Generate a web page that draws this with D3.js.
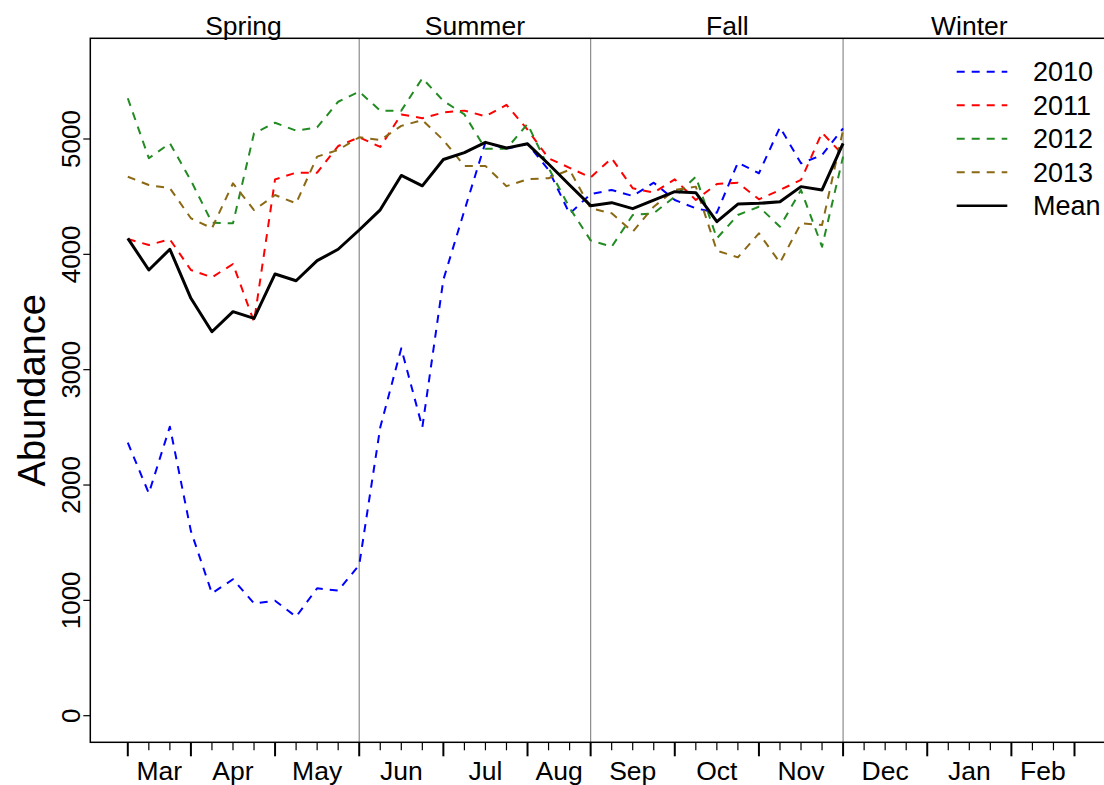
<!DOCTYPE html>
<html>
<head>
<meta charset="utf-8">
<script src="https://cdn.jsdelivr.net/npm/d3@7"></script>
<style>
  html, body { margin: 0; padding: 0; background: #fff; }
  svg { display: block; font-family: "Liberation Sans", Arial, sans-serif; }
</style>
</head>
<body>
<svg id="chart" width="1104" height="785"></svg>
<script>
// ---- data ----
const weeks = d3.range(0, 35);
const y2010 = [2367, 1928, 2506, 1600, 1061, 1183, 974, 997, 858, 1105, 1084, 1307, 2500, 3185, 2500, 3780, 4380, 4971, 4915, 4958, 4733, 4352, 4523, 4558, 4506, 4621, 4471, 4399, 4361, 4795, 4703, 5102, 4789, 4861, 5093];
const y2011 = [4133, 4081, 4130, 3864, 3801, 3916, 3416, 4650, 4708, 4708, 4939, 5015, 4931, 5213, 5180, 5230, 5246, 5197, 5296, 5081, 4833, 4750, 4667, 4833, 4573, 4535, 4650, 4471, 4610, 4621, 4477, 4558, 4645, 5055, 4861];
const y2012 = [5353, 4833, 4963, 4640, 4275, 4269, 5049, 5141, 5072, 5101, 5323, 5410, 5246, 5246, 5527, 5330, 5213, 4915, 4915, 5130, 4750, 4403, 4121, 4066, 4341, 4356, 4500, 4673, 4139, 4341, 4413, 4240, 4558, 4066, 4847];
const y2013 = [4673, 4601, 4573, 4313, 4226, 4616, 4384, 4514, 4442, 4847, 4905, 5015, 4991, 5114, 5163, 4991, 4766, 4766, 4591, 4651, 4660, 4733, 4399, 4356, 4196, 4413, 4558, 4587, 4032, 3974, 4182, 3928, 4269, 4254, 5078];
const yMean = [4139, 3864, 4044, 3619, 3329, 3503, 3445, 3830, 3771, 3945, 4044, 4211, 4386, 4684, 4594, 4822, 4882, 4971, 4922, 4958, 4783, 4601, 4422, 4448, 4396, 4471, 4543, 4535, 4283, 4436, 4442, 4456, 4587, 4558, 4963];

const seriesNames = ["2010", "2011", "2012", "2013", "Mean"];
const seriesColors = ["#0000ff", "#ff0000", "#228b22", "#8b6914", "#000000"];

const monthLabels = ["Mar", "Apr", "May", "Jun", "Jul", "Aug", "Sep", "Oct", "Nov", "Dec", "Jan", "Feb"];
const monthBreaks = [0, 3, 7, 11, 15, 19, 22, 26, 30, 34, 38, 42, 45];
const seasonLabels = ["Spring", "Summer", "Fall", "Winter"];
const seasonLabelPos = [5.5, 16.5, 28.5, 40];
const seasonBreaks = [11, 22, 34];
const yTicks = [0, 1000, 2000, 3000, 4000, 5000];

// ---- layout ----
const svg = d3.select("#chart");
const x = d3.scaleLinear().domain([0, 45]).range([127.8, 1074.5]);
const y = d3.scaleLinear().domain([0, 5000]).range([715.7, 139]);
const plotTop = 38.3, plotBottom = 742.3;
const plotLeft = 90.3, plotRight = x(46.8);

// season separator lines
svg.append("g").selectAll("line").data(seasonBreaks).join("line")
  .attr("x1", d => x(d)).attr("x2", d => x(d))
  .attr("y1", plotTop).attr("y2", plotBottom)
  .attr("stroke", "#8c8c8c").attr("stroke-width", 1.2);

// series
const allSeries = [y2010, y2011, y2012, y2013, yMean];
const line = d3.line().x((d, i) => x(weeks[i])).y(d => y(d));
allSeries.forEach((s, k) => {
  svg.append("path").datum(s)
    .attr("d", line)
    .attr("fill", "none")
    .attr("stroke", seriesColors[k])
    .attr("stroke-width", k === 4 ? 3 : 2)
    .attr("stroke-linejoin", "round")
    .attr("stroke-dasharray", k === 4 ? null : "8,7");
});

// box
svg.append("rect")
  .attr("x", plotLeft).attr("y", plotTop)
  .attr("width", plotRight - plotLeft).attr("height", plotBottom - plotTop)
  .attr("fill", "none").attr("stroke", "#000").attr("stroke-width", 1.5);

// y axis
const yAxis = svg.append("g");
yAxis.selectAll("line").data(yTicks).join("line")
  .attr("x1", plotLeft - 7).attr("x2", plotLeft)
  .attr("y1", d => y(d)).attr("y2", d => y(d))
  .attr("stroke", "#000").attr("stroke-width", 1.2);
yAxis.selectAll("text").data(yTicks).join("text")
  .attr("transform", d => `translate(${plotLeft - 10},${y(d)}) rotate(-90)`)
  .attr("text-anchor", "middle")
  .attr("font-size", 26)
  .text(d => d);

svg.append("text")
  .attr("transform", `translate(45,${(plotTop + plotBottom) / 2}) rotate(-90)`)
  .attr("text-anchor", "middle")
  .attr("font-size", 38)
  .text("Abundance");

// x axis ticks
const xAxis = svg.append("g");
xAxis.selectAll("line.minor").data(d3.range(0, 46)).join("line")
  .attr("class", "minor")
  .attr("x1", d => x(d)).attr("x2", d => x(d))
  .attr("y1", plotBottom).attr("y2", d => monthBreaks.includes(d) ? plotBottom + 14 : plotBottom + 8)
  .attr("stroke", "#000").attr("stroke-width", d => monthBreaks.includes(d) ? 2 : 1.2);
xAxis.selectAll("text").data(monthLabels).join("text")
  .attr("x", (d, i) => x((monthBreaks[i] + monthBreaks[i + 1]) / 2))
  .attr("y", 780)
  .attr("text-anchor", "middle")
  .attr("font-size", 26.5)
  .text(d => d);

// season labels
svg.append("g").selectAll("text").data(seasonLabels).join("text")
  .attr("x", (d, i) => x(seasonLabelPos[i]))
  .attr("y", 34.5)
  .attr("text-anchor", "middle")
  .attr("font-size", 26.5)
  .text(d => d);

// legend
const lg = svg.append("g");
seriesNames.forEach((name, k) => {
  const yy = 71.7 + k * 33.5;
  lg.append("line")
    .attr("x1", 956.7).attr("x2", 1007.3)
    .attr("y1", yy).attr("y2", yy)
    .attr("stroke", seriesColors[k])
    .attr("stroke-width", k === 4 ? 2.5 : 2)
    .attr("stroke-dasharray", k === 4 ? null : "8,7");
  lg.append("text")
    .attr("x", 1033).attr("y", yy + 9.5)
    .attr("font-size", 27)
    .text(name);
});
</script>
</body>
</html>
